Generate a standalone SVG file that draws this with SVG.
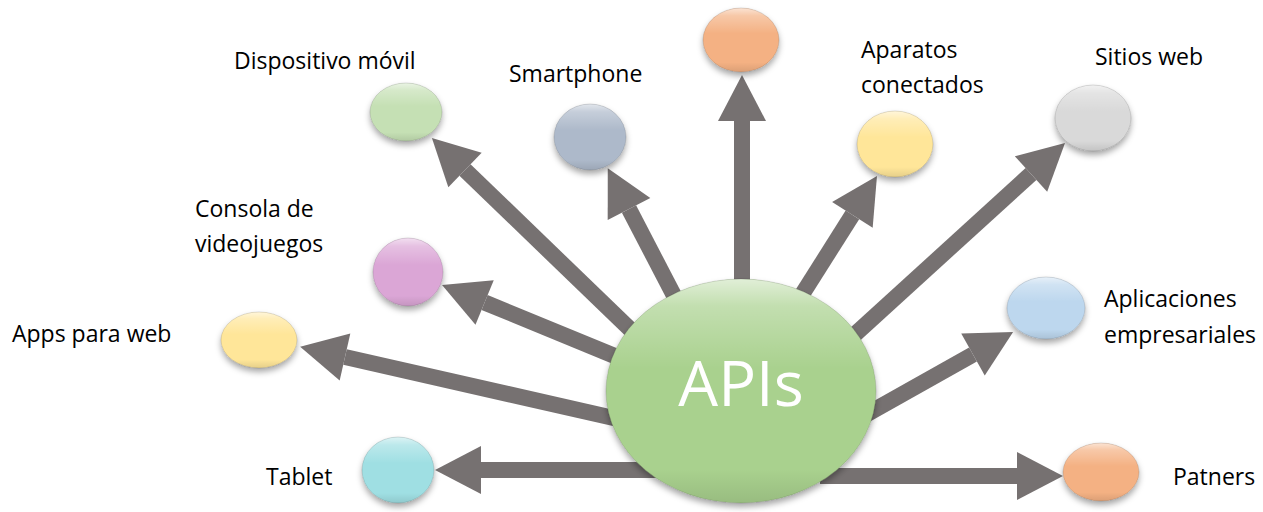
<svg xmlns="http://www.w3.org/2000/svg" width="1263" height="512" viewBox="0 0 1263 512">
<style>
.lbl{font-family:"Open Sans","Liberation Sans",sans-serif;font-size:23px;fill:#000}
.big{font-family:"Open Sans","Liberation Sans",sans-serif;font-size:63px;fill:#fff;text-anchor:middle}
.conn{stroke:#767171;stroke-width:16;fill:none;marker-end:url(#head)}
.ball{filter:url(#sh)}
.gloss{fill:url(#gl);stroke:#000;stroke-opacity:0.12;stroke-width:1}
</style>
<defs>
<marker id="head" markerUnits="strokeWidth" markerWidth="3" markerHeight="3" refX="0" refY="1.5" orient="auto" overflow="visible">
<path d="M0,0 L2.875,1.5 L0,3 z" fill="#767171"/>
</marker>
<linearGradient id="gl" x1="0" y1="0" x2="0" y2="1">
<stop offset="0" stop-color="#fff" stop-opacity="0.65"/>
<stop offset="0.12" stop-color="#fff" stop-opacity="0.3"/>
<stop offset="0.4" stop-color="#fff" stop-opacity="0"/>
<stop offset="0.85" stop-color="#000" stop-opacity="0"/>
<stop offset="1" stop-color="#000" stop-opacity="0.1"/>
</linearGradient>
<filter id="sh" x="-20%" y="-20%" width="140%" height="150%">
<feDropShadow dx="0" dy="4" stdDeviation="3" flood-color="#000" flood-opacity="0.35"/>
</filter>
</defs>
<g id="connectors">
<line class="conn" x1="690" y1="387" x2="465" y2="170"/>
<line class="conn" x1="720" y1="384" x2="629" y2="209"/>
<line class="conn" x1="742" y1="390" x2="742" y2="121"/>
<line class="conn" x1="760" y1="361" x2="852.4" y2="214.9"/>
<line class="conn" x1="840" y1="348" x2="1031" y2="174"/>
<line class="conn" x1="860" y1="418" x2="973" y2="354.5"/>
<line class="conn" x1="820" y1="476" x2="1017" y2="476"/>
<line class="conn" x1="660" y1="470" x2="481" y2="470"/>
<line class="conn" x1="640" y1="424" x2="345" y2="357"/>
<line class="conn" x1="650" y1="370.5" x2="484.6" y2="302.5"/>
</g>
<g id="node-apis">
<ellipse class="ball" cx="741" cy="391" rx="135" ry="112" fill="#a9d18e"/>
<ellipse class="gloss" cx="741" cy="391" rx="135" ry="112"/>
<text class="big" x="741" y="406">APIs</text>
</g>
<g id="node-dispositivo">
<ellipse class="ball" cx="406" cy="112" rx="36" ry="29" fill="#c5e0b4"/>
<ellipse class="gloss" cx="406" cy="112" rx="36" ry="29"/>
<text class="lbl" x="234" y="69">Dispositivo móvil</text>
</g>
<g id="node-smartphone">
<ellipse class="ball" cx="590" cy="137" rx="36" ry="33" fill="#adb9ca"/>
<ellipse class="gloss" cx="590" cy="137" rx="36" ry="33"/>
<text class="lbl" x="509" y="82">Smartphone</text>
</g>
<g id="node-top">
<ellipse class="ball" cx="741" cy="40" rx="38" ry="32" fill="#f4b183"/>
<ellipse class="gloss" cx="741" cy="40" rx="38" ry="32"/>
</g>
<g id="node-aparatos">
<ellipse class="ball" cx="895" cy="144" rx="38" ry="33" fill="#ffe699"/>
<ellipse class="gloss" cx="895" cy="144" rx="38" ry="33"/>
<text class="lbl" x="861" y="58">Aparatos</text>
<text class="lbl" x="861" y="93">conectados</text>
</g>
<g id="node-sitios">
<ellipse class="ball" cx="1093" cy="118" rx="38" ry="33" fill="#d9d9d9"/>
<ellipse class="gloss" cx="1093" cy="118" rx="38" ry="33"/>
<text class="lbl" x="1095" y="65">Sitios web</text>
</g>
<g id="node-consola">
<ellipse class="ball" cx="408" cy="272" rx="35" ry="34" fill="#dba6d6"/>
<ellipse class="gloss" cx="408" cy="272" rx="35" ry="34"/>
<text class="lbl" x="195" y="217">Consola de</text>
<text class="lbl" x="195" y="252">videojuegos</text>
</g>
<g id="node-apps">
<ellipse class="ball" cx="259" cy="340" rx="38" ry="28" fill="#ffe699"/>
<ellipse class="gloss" cx="259" cy="340" rx="38" ry="28"/>
<text class="lbl" x="12" y="342">Apps para web</text>
</g>
<g id="node-aplicaciones">
<ellipse class="ball" cx="1046" cy="308" rx="39" ry="31" fill="#bdd7ee"/>
<ellipse class="gloss" cx="1046" cy="308" rx="39" ry="31"/>
<text class="lbl" x="1104" y="307">Aplicaciones</text>
<text class="lbl" x="1104" y="343">empresariales</text>
</g>
<g id="node-tablet">
<ellipse class="ball" cx="398" cy="470" rx="36" ry="33" fill="#9fdfe3"/>
<ellipse class="gloss" cx="398" cy="470" rx="36" ry="33"/>
<text class="lbl" x="266" y="485">Tablet</text>
</g>
<g id="node-patners">
<ellipse class="ball" cx="1101" cy="472" rx="38" ry="29" fill="#f4b183"/>
<ellipse class="gloss" cx="1101" cy="472" rx="38" ry="29"/>
<text class="lbl" x="1173" y="485">Patners</text>
</g>
</svg>
